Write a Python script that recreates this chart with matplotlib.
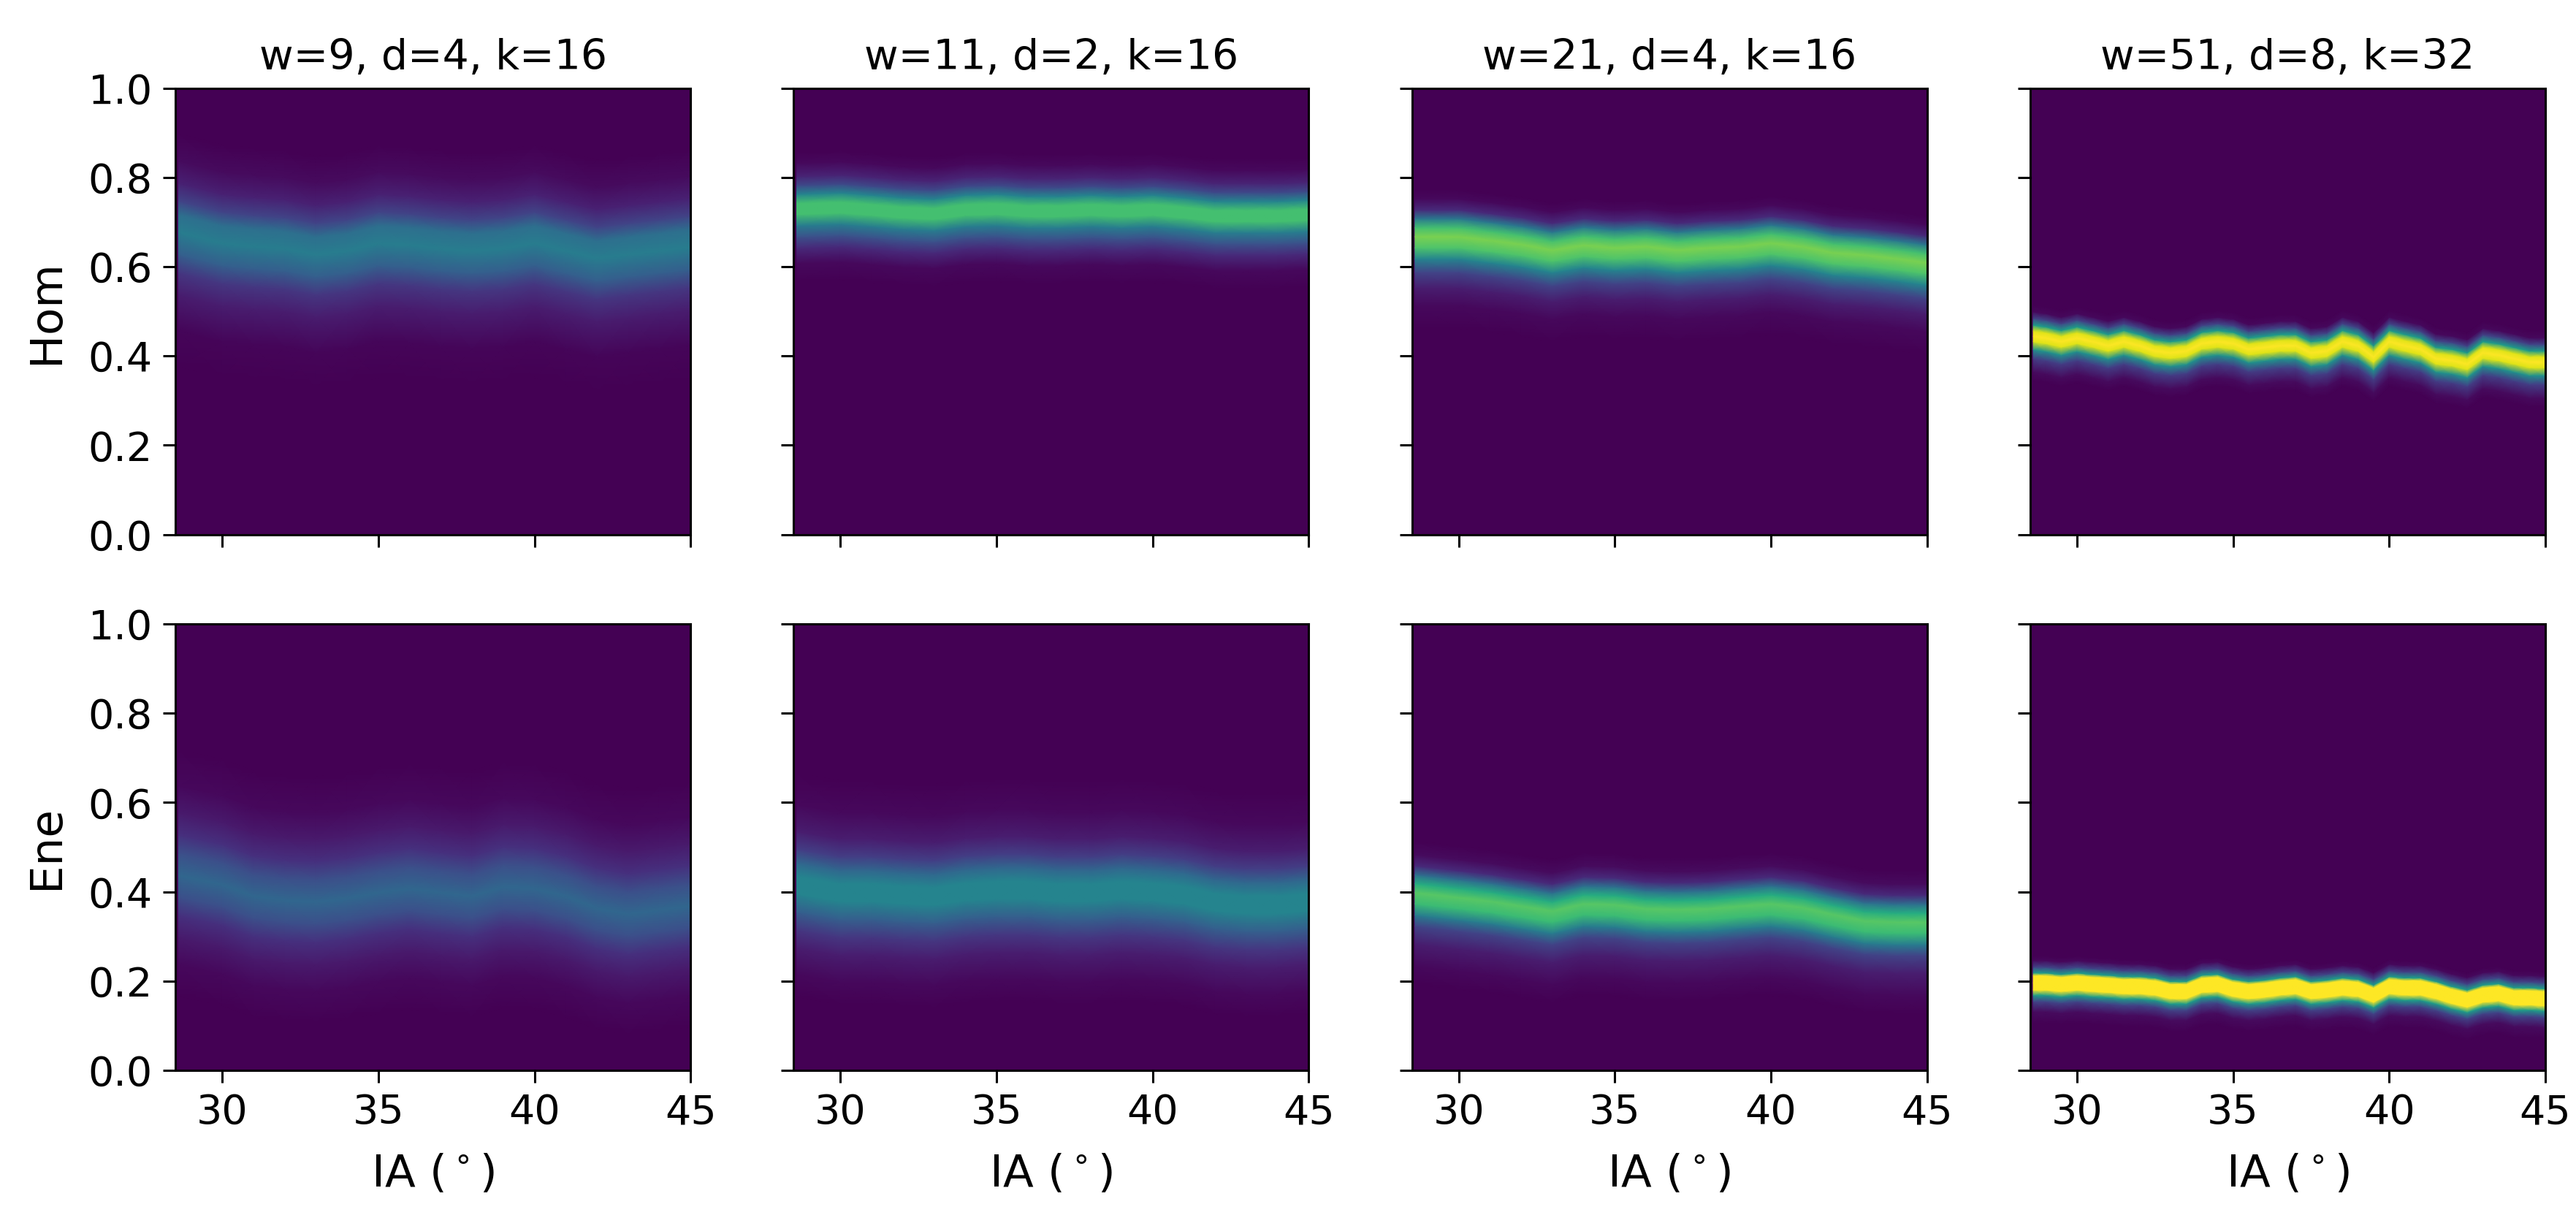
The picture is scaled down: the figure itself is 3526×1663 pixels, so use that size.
import matplotlib
matplotlib.use('Agg')
import matplotlib.pyplot as plt
import numpy as np

ia_coarse = [28.6, 30, 31, 32, 33, 34, 35, 36, 37, 38, 39, 40, 41, 42, 43, 44, 44.97]
ia_fine = [28.6, 29, 29.5, 30, 30.5, 31, 31.5, 32, 32.5, 33, 33.5, 34, 34.5, 35, 35.5, 36, 36.5,
           37, 37.5, 38, 38.5, 39, 39.5, 40, 40.5, 41, 41.5, 42, 42.5, 43, 43.5, 44, 44.5, 44.97]

titles = ['w=9, d=4, k=16', 'w=11, d=2, k=16', 'w=21, d=4, k=16', 'w=51, d=8, k=32']
row_labels = ['Hom', 'Ene']

# band centre for each panel
hom_w9_centre = [.677, .652, .645, .640, .627, .635, .652, .648, .640, .635, .640, .652, .635, .618, .627, .635, .643]
hom_w11_centre = [.727, .730, .725, .719, .716, .725, .727, .722, .722, .725, .722, .725, .719, .711, .711, .711, .714]
hom_w21_centre = [.662, .662, .654, .645, .632, .643, .637, .640, .632, .637, .640, .648, .640, .626, .621, .613, .604]
hom_w51_centre = [.444, .440, .432, .440, .432, .423, .432, .423, .411, .407, .411, .428, .432, .428, .415, .419, .423,
                  .423, .407, .411, .432, .423, .398, .432, .423, .415, .394, .390, .382, .407, .402, .394, .386, .386]
ene_w9_centre = [.437, .416, .390, .381, .377, .385, .398, .407, .398, .390, .411, .407, .390, .363, .350, .359, .368]
ene_w11_centre = [.415, .398, .398, .393, .390, .400, .404, .404, .398, .398, .404, .400, .393, .377, .371, .371, .377]
ene_w21_centre = [.393, .382, .374, .363, .352, .368, .366, .357, .355, .357, .363, .368, .360, .344, .330, .327, .327]
ene_w51_centre = [.196, .196, .193, .196, .193, .191, .188, .188, .185, .177, .177, .191, .193, .182, .177, .180, .185,
                  .188, .177, .180, .185, .182, .169, .188, .185, .185, .177, .166, .158, .169, .172, .163, .163, .161]

# distance from the centre and how full the bins look there (0 - 1 of the colour scale)
hom_w9_offset = [-.30, -.22, -.14, -.09, -.05, 0, .04, .07, .11, .16, .22]
hom_w9_level = [0, .015, .08, .16, .30, .42, .36, .20, .09, .03, 0]
hom_w11_offset = [-.16, -.12, -.085, -.06, -.035, -.01, .015, .035, .055, .075, .105, .13]
hom_w11_level = [0, .02, .12, .25, .42, .70, .70, .45, .22, .10, .02, 0]
hom_w21_offset = [-.20, -.15, -.11, -.075, -.045, -.02, .005, .025, .045, .065, .09, .11]
hom_w21_level = [0, .02, .08, .20, .45, .72, .80, .70, .40, .12, .02, 0]
hom_w51_offset = [-.10, -.08, -.05, -.03, -.012, 0, .012, .025, .04, .055, .07]
hom_w51_level = [0, .03, .18, .50, .95, 1, .95, .55, .20, .02, 0]
ene_w9_offset = [-.27, -.20, -.14, -.09, -.05, 0, .05, .09, .14, .20, .28]
ene_w9_level = [0, .02, .07, .14, .24, .33, .24, .14, .07, .02, 0]
ene_w11_offset = [-.25, -.20, -.14, -.10, -.06, -.02, .02, .05, .08, .12, .18, .25]
ene_w11_level = [0, .02, .08, .16, .30, .45, .45, .33, .18, .08, .02, 0]
ene_w21_offset = [-.20, -.16, -.11, -.07, -.045, -.02, .005, .025, .045, .065, .09, .12]
ene_w21_level = [0, .02, .08, .20, .42, .68, .74, .62, .36, .12, .03, 0]
ene_w51_offset = [-.09, -.065, -.042, -.028, -.016, 0, .016, .022, .035, .05, .06]
ene_w51_level = [0, .03, .20, .55, 1, 1, 1, .55, .20, .02, 0]

panels = [
    [(ia_coarse, hom_w9_centre, hom_w9_offset, hom_w9_level),
     (ia_coarse, hom_w11_centre, hom_w11_offset, hom_w11_level),
     (ia_coarse, hom_w21_centre, hom_w21_offset, hom_w21_level),
     (ia_fine, hom_w51_centre, hom_w51_offset, hom_w51_level)],
    [(ia_coarse, ene_w9_centre, ene_w9_offset, ene_w9_level),
     (ia_coarse, ene_w11_centre, ene_w11_offset, ene_w11_level),
     (ia_coarse, ene_w21_centre, ene_w21_offset, ene_w21_level),
     (ia_fine, ene_w51_centre, ene_w51_offset, ene_w51_level)],
]

plt.rcParams['axes.linewidth'] = 2.2
plt.rcParams['xtick.major.size'] = 12.5
plt.rcParams['ytick.major.size'] = 12.5
plt.rcParams['xtick.major.width'] = 2.2
plt.rcParams['ytick.major.width'] = 2.2
plt.rcParams['xtick.major.pad'] = 10
plt.rcParams['ytick.major.pad'] = 10

fig, axes = plt.subplots(2, 4, sharex=True, sharey=True, figsize=(35.26, 16.63), dpi=100)
fig.subplots_adjust(left=240/3526, right=3484/3526, top=1-120.5/1663, bottom=1-1465/1663, wspace=0.2, hspace=0.2)

for r in range(2):
    for c in range(4):
        ax = axes[r][c]
        ia, centre, offset, level = panels[r][c]
        ax.set_facecolor(plt.cm.viridis(0))

        # one mesh column per IA station, one mesh row per offset
        X, off = np.meshgrid(ia, offset)
        Y = off + np.array(centre)
        C = np.tile(np.array(level)[:, None], (1, len(ia)))
        ax.pcolormesh(X, Y, C, shading='gouraud', cmap='viridis', vmin=0, vmax=1)

        ax.set_xlim(28.5, 45)
        ax.set_ylim(0, 1)
        ax.set_xticks([30, 35, 40, 45])
        ax.set_yticks([0, 0.2, 0.4, 0.6, 0.8, 1.0])
        ax.tick_params(labelsize=40)
        if r == 0:
            ax.set_title(titles[c], fontsize=41, pad=18)
        else:
            ax.set_xlabel('IA ($^\\circ$)', fontsize=44, labelpad=20)
        if c == 0:
            ax.set_ylabel(row_labels[r], fontsize=44, labelpad=20)

fig.savefig('out.png', dpi=100)
